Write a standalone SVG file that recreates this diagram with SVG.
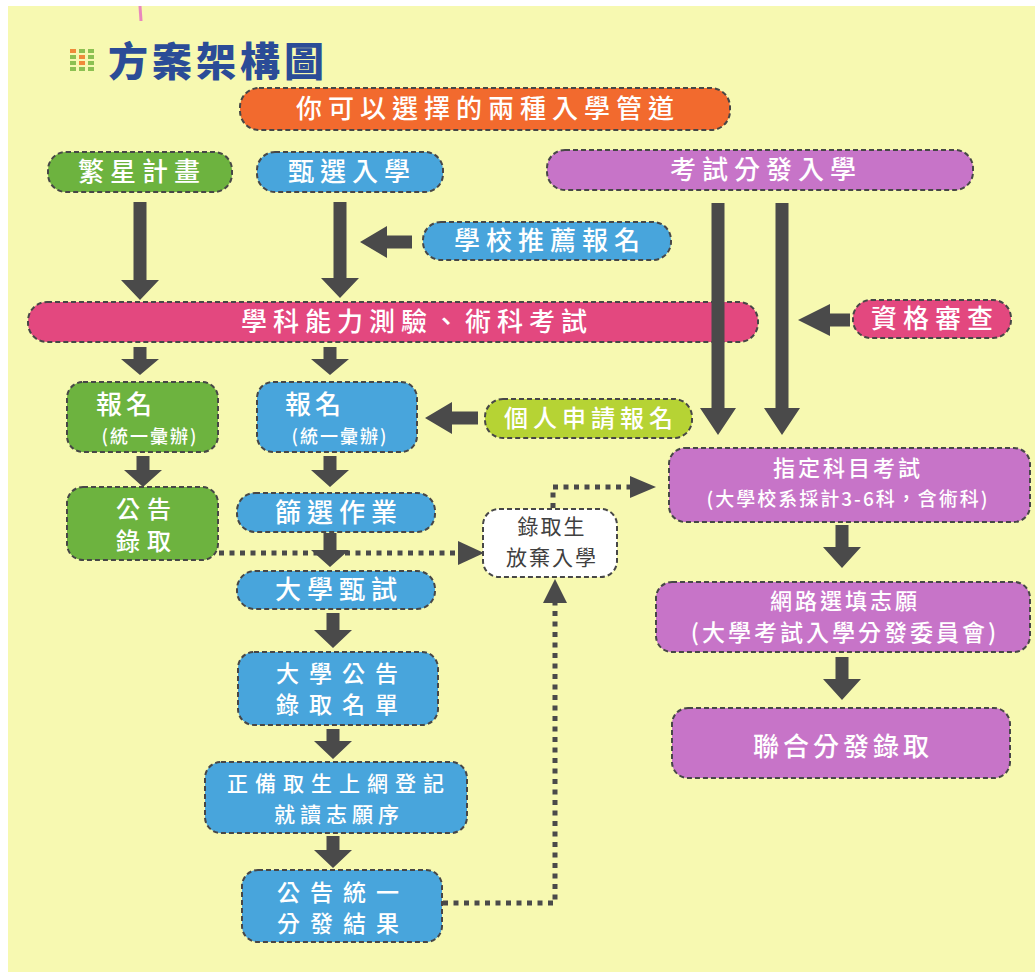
<svg xmlns="http://www.w3.org/2000/svg" width="1035" height="972" viewBox="0 0 1035 972">
<style>
.n{stroke:#474747;stroke-width:2;stroke-dasharray:5 3}
.g{fill:#6db33f}.b{fill:#48a5dc}.p{fill:#c774c8}.k{fill:#e3487f}.o{fill:#f26a2e}.l{fill:#b6d334}.w{fill:#ffffff}
text{font-family:"Noto Sans CJK TC","Noto Sans CJK SC",sans-serif;fill:#ffffff;text-anchor:middle;font-weight:500}
.t26{font-size:26px;letter-spacing:6px}
.t24{font-size:24px;letter-spacing:6px}
.t22{font-size:22px;letter-spacing:4px}
.t17{font-size:18px;letter-spacing:2px}
.arr{fill:#4a4a4a}
.dot{fill:none;stroke:#4a4a4a;stroke-width:5;stroke-dasharray:5 5.5}
</style>
<rect width="1035" height="972" fill="#ffffff"/>
<rect x="8" y="6" width="1027" height="966" fill="#f7f9b1"/>
<line x1="140" y1="6" x2="141" y2="21" stroke="#e987bd" stroke-width="3"/>

<g id="title">
<g>
<rect x="70" y="49" width="6" height="4" fill="#f08a3a"/><rect x="79" y="49" width="6" height="4" fill="#8cc152"/><rect x="88" y="49" width="6" height="4" fill="#8cc152"/>
<rect x="70" y="55" width="6" height="4" fill="#8cc152"/><rect x="79" y="55" width="6" height="4" fill="#f08a3a"/><rect x="88" y="55" width="6" height="4" fill="#8cc152"/>
<rect x="70" y="61" width="6" height="4" fill="#8cc152"/><rect x="79" y="61" width="6" height="4" fill="#f08a3a"/><rect x="88" y="61" width="6" height="4" fill="#8cc152"/>
<rect x="70" y="67" width="6" height="4" fill="#8cc152"/><rect x="79" y="67" width="6" height="4" fill="#8cc152"/><rect x="88" y="67" width="6" height="4" fill="#8cc152"/>
</g>
<text x="108" y="76" style="font-size:40px;font-weight:900;fill:#2b4c97;text-anchor:start;letter-spacing:4px">方案架構圖</text>
</g>

<g id="n-top"><rect class="n o" x="240" y="88" width="490" height="42" rx="19"/><text class="t26" x="488" y="118">你可以選擇的兩種入學管道</text></g>
<g id="n-star"><rect class="n g" x="48" y="152" width="184" height="40" rx="18"/><text class="t26" x="142" y="181">繁星計畫</text></g>
<g id="n-select"><rect class="n b" x="257" y="152" width="186" height="40" rx="18"/><text class="t26" x="352" y="181">甄選入學</text></g>
<g id="n-exam"><rect class="n p" x="547" y="150" width="426" height="40" rx="18"/><text class="t26" x="766" y="179">考試分發入學</text></g>
<g id="n-school"><rect class="n b" x="423" y="222" width="248" height="38" rx="18"/><text class="t26" x="550" y="250">學校推薦報名</text></g>
<g id="n-gsat"><rect class="n k" x="28" y="302" width="730" height="40" rx="19"/><text class="t26" x="417" y="331">學科能力測驗、術科考試</text></g>
<g id="n-qual"><rect class="n k" x="853" y="300" width="158" height="38" rx="18"/><text class="t26" x="935" y="328">資格審查</text></g>
<g id="n-reg1"><rect class="n g" x="67" y="382" width="151" height="70" rx="16"/><text class="t26" x="126" y="414" style="letter-spacing:4px">報名</text><text class="t17" x="150" y="443">(統一彙辦)</text></g>
<g id="n-reg2"><rect class="n b" x="257" y="382" width="160" height="70" rx="16"/><text class="t26" x="315" y="414" style="letter-spacing:4px">報名</text><text class="t17" x="340" y="443">(統一彙辦)</text></g>
<g id="n-apply"><rect class="n l" x="485" y="399" width="207" height="39" rx="18"/><text class="t24" x="591" y="427" style="letter-spacing:5px">個人申請報名</text></g>
<g id="n-announce1"><rect class="n g" x="67" y="487" width="151" height="73" rx="16"/><text class="t24" x="147" y="518" style="letter-spacing:7px">公告</text><text class="t24" x="147" y="550" style="letter-spacing:7px">錄取</text></g>
<g id="n-screen"><rect class="n b" x="237" y="493" width="198" height="39" rx="18"/><text class="t26" x="339" y="522">篩選作業</text></g>
<g id="n-giveup"><rect class="n w" x="483" y="509" width="134" height="68" rx="16"/><text class="t22" x="552" y="534" style="font-size:21px;fill:#404040;letter-spacing:2px;font-weight:normal">錄取生</text><text class="t22" x="552" y="565" style="font-size:21px;fill:#404040;letter-spacing:2px;font-weight:normal">放棄入學</text></g>
<g id="n-uniexam"><rect class="n b" x="237" y="571" width="198" height="38" rx="18"/><text class="t26" x="339" y="599">大學甄試</text></g>
<g id="n-list"><rect class="n b" x="238" y="652" width="200" height="73" rx="16"/><text class="t24" x="342" y="682" style="font-size:23px;letter-spacing:10px">大學公告</text><text class="t24" x="342" y="713" style="font-size:23px;letter-spacing:10px">錄取名單</text></g>
<g id="n-online"><rect class="n b" x="205" y="762" width="262" height="71" rx="16"/><text class="t22" x="339" y="791" style="font-size:21px;letter-spacing:7px">正備取生上網登記</text><text class="t22" x="339" y="822" style="font-size:21px;letter-spacing:5px">就讀志願序</text></g>
<g id="n-result"><rect class="n b" x="242" y="870" width="200" height="72" rx="16"/><text class="t24" x="343" y="901" style="font-size:23px;letter-spacing:10px">公告統一</text><text class="t24" x="343" y="932" style="font-size:23px;letter-spacing:10px">分發結果</text></g>
<g id="n-subject"><rect class="n p" x="669" y="448" width="361" height="74" rx="16"/><text class="t22" x="848" y="476" style="letter-spacing:3px">指定科目考試</text><text x="848" y="506" style="font-size:19px;letter-spacing:2px">(大學校系採計3-6科，含術科)</text></g>
<g id="n-wish"><rect class="n p" x="656" y="582" width="374" height="70" rx="16"/><text class="t22" x="845" y="609" style="letter-spacing:3px">網路選填志願</text><text class="t24" x="845" y="641" style="font-size:23px;letter-spacing:3px">(大學考試入學分發委員會)</text></g>
<g id="n-final"><rect class="n p" x="672" y="708" width="338" height="70" rx="16"/><text class="t26" x="843" y="756" style="letter-spacing:4px">聯合分發錄取</text></g>

<g id="connectors">
<path class="arr" d="M133.5 202h13v78h12.5l-19 20-19-20h12.5z"/>
<path class="arr" d="M333.5 202h13v76h12.5l-19 20-19-20h12.5z"/>
<path class="arr" d="M412 235.5v13h-25v9.5l-27-16 27-16v9.5z"/>
<path class="arr" d="M133.5 347h13v12h12.5l-19 16-19-16h12.5z"/>
<path class="arr" d="M323.5 347h13v12h12.5l-19 16-19-16h12.5z"/>
<path class="arr" d="M711.5 203h13v205h11.5l-18 27-18-27h11.5z"/>
<path class="arr" d="M775.5 203h13v205h11.5l-18 27-18-27h11.5z"/>
<path class="arr" d="M850 313.5v13h-20v9.5l-32-16 32-16v9.5z"/>
<path class="arr" d="M478 411.5v13h-26v9.5l-27-16 27-16v9.5z"/>
<path class="arr" d="M136.5 456h13v14h12.5l-19 17-19-17h12.5z"/>
<path class="arr" d="M323.5 456h13v14h12.5l-19 17-19-17h12.5z"/>
<path class="dot" d="M219 553H458"/>
<path class="arr" d="M458 541L484 553 458 565z"/>
<path class="arr" d="M323.5 533h13v17h12.5l-19 17-19-17h12.5z"/>
<path class="arr" d="M326.5 613h13v17h12.5l-19 18-19-18h12.5z"/>
<path class="arr" d="M326.5 729h13v12h12.5l-19 18-19-18h12.5z"/>
<path class="arr" d="M326.5 836h13v14h12.5l-19 18-19-18h12.5z"/>
<path class="dot" d="M553 508V487H630"/>
<path class="arr" d="M630 476L656 487 630 498z"/>
<path class="dot" d="M443 903H555V603"/>
<path class="arr" d="M543 603L555 579 567 603z"/>
<path class="arr" d="M835.5 525h13v22h12.5l-19 21-19-21h12.5z"/>
<path class="arr" d="M835.5 657h13v22h12.5l-19 21-19-21h12.5z"/>
</g>
</svg>
